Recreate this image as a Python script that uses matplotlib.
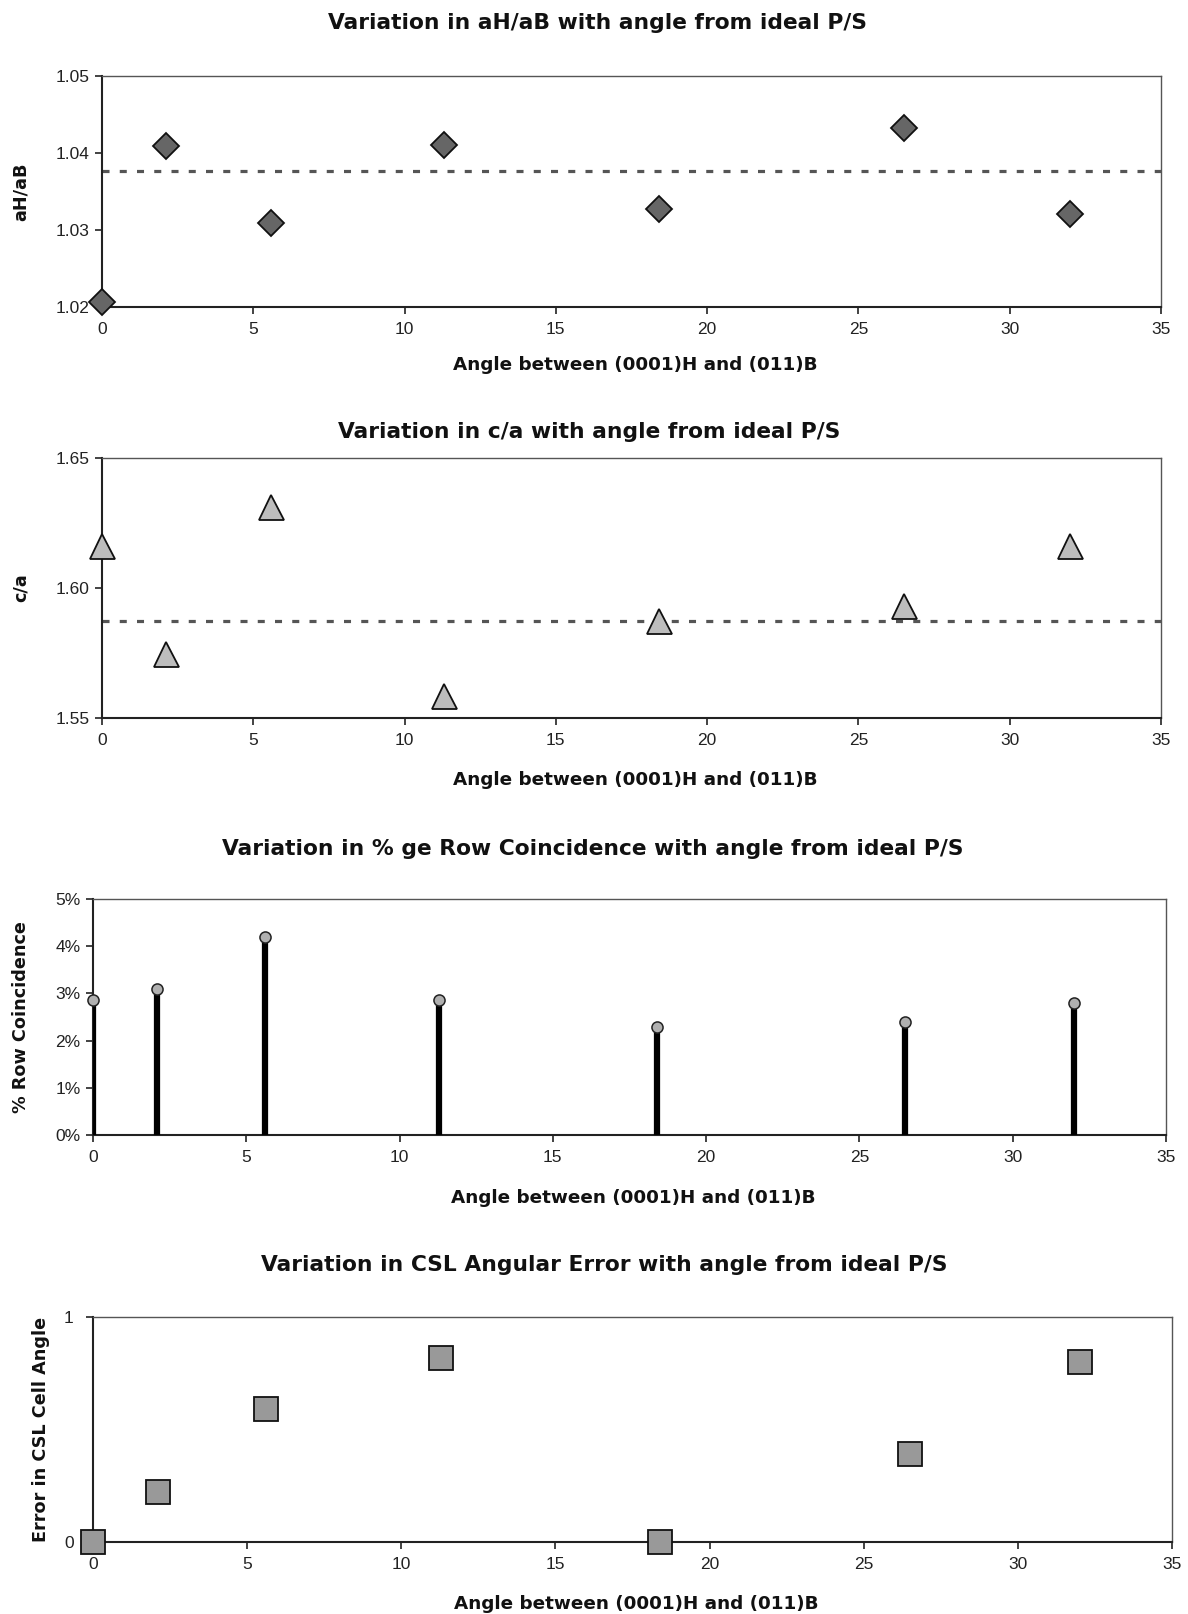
import matplotlib
matplotlib.use("Agg")
import matplotlib.pyplot as plt
from matplotlib.ticker import FixedLocator, FuncFormatter

plt.rcParams['font.family'] = ['Liberation Sans', 'DejaVu Sans']

# ---- data ----
angles = [0.0, 2.1, 5.6, 11.3, 18.4, 26.5, 32.0]
ah_ab = [1.0207, 1.0409, 1.0309, 1.0410, 1.0327, 1.0432, 1.0321]
ideal_ah_ab = 1.0377
c_over_a = [1.6162, 1.5745, 1.6312, 1.5583, 1.5874, 1.5929, 1.6160]
ideal_c_over_a = 1.5872
row_coincidence = [2.87, 3.10, 4.19, 2.87, 2.28, 2.39, 2.79]  # percent
csl_error = [0.0, 0.222, 0.593, 0.818, 0.0, 0.391, 0.799]

titles = ["Variation in aH/aB with angle from ideal P/S",
          "Variation in c/a with angle from ideal P/S",
          "Variation in % ge Row Coincidence with angle from ideal P/S",
          "Variation in CSL Angular Error with angle from ideal P/S"]
ylabels = ["aH/aB", "c/a", "% Row Coincidence", "Error in CSL Cell Angle"]
xlabel = "Angle between (0001)H and (011)B"
xticks = [0, 5, 10, 15, 20, 25, 30, 35]

W, H = 1188, 1614
fig = plt.figure(figsize=(W / 100, H / 100), dpi=100)

bold_family = ['DejaVu Sans']

# axes boxes in pixel coords: left, right, top, bottom
boxes = [(102, 1161, 76, 307),
         (102, 1161, 458, 718),
         (93, 1166, 899, 1135),
         (93, 1172, 1317, 1542)]
title_pos = [(597, 23), (589, 432), (593, 849), (604, 1265)]
ylabel_x = [21, 21, 21, 41]
xlabel_y = [365, 780, 1198, 1604]
ytick_pad = [4, 4, 4, 9]


def make_axes(i):
    l, r, t, b = boxes[i]
    ax = fig.add_axes([l / W, 1 - b / H, (r - l) / W, (b - t) / H])
    ax.set_xlim(0, 35)
    ax.xaxis.set_major_locator(FixedLocator(xticks))
    ax.tick_params(axis='both', direction='out', length=5, width=1.2,
                   labelsize=12.5, colors='#222222', labelcolor='#222222')
    ax.tick_params(axis='x', pad=6)
    ax.tick_params(axis='y', pad=ytick_pad[i])
    for s in ['left', 'bottom']:
        ax.spines[s].set_linewidth(1.5)
        ax.spines[s].set_color('#222222')
    for s in ['top', 'right']:
        ax.spines[s].set_linewidth(1.0)
        ax.spines[s].set_color('#555555')
    fig.text(title_pos[i][0] / W, 1 - title_pos[i][1] / H, titles[i],
             ha='center', va='center', fontsize=15.7, fontweight='bold',
             family=bold_family, color='#111111')
    fig.text(ylabel_x[i] / W, 1 - ((t + b) / 2) / H, ylabels[i],
             ha='center', va='center', rotation=90, fontsize=12.7,
             fontweight='bold', family=bold_family, color='#111111')
    fig.text(((l + r) / 2 + 4) / W, 1 - xlabel_y[i] / H, xlabel,
             ha='center', va='center', fontsize=13.2, fontweight='bold',
             family=bold_family, color='#111111')
    return ax


dash = (0, (2.2, 3.2))

# Panel 1
ax1 = make_axes(0)
ax1.set_ylim(1.02, 1.05)
ax1.yaxis.set_major_locator(FixedLocator([1.02, 1.03, 1.04, 1.05]))
ax1.yaxis.set_major_formatter(FuncFormatter(lambda v, p: f"{v:.2f}"))
ax1.axhline(ideal_ah_ab, color='#555555', lw=2.3, linestyle=dash)
ax1.plot(angles, ah_ab, linestyle='none', marker='D', markersize=13,
         markerfacecolor='#666666', markeredgecolor='#111111',
         markeredgewidth=1.3, clip_on=False, zorder=5)

# Panel 2
ax2 = make_axes(1)
ax2.set_ylim(1.55, 1.65)
ax2.yaxis.set_major_locator(FixedLocator([1.55, 1.60, 1.65]))
ax2.yaxis.set_major_formatter(FuncFormatter(lambda v, p: f"{v:.2f}"))
ax2.axhline(ideal_c_over_a, color='#555555', lw=2.3, linestyle=dash)
ax2.plot(angles, c_over_a, linestyle='none', marker='^', markersize=18,
         markerfacecolor='#bdbdbd', markeredgecolor='#111111',
         markeredgewidth=1.3, clip_on=False, zorder=5)

# Panel 3
ax3 = make_axes(2)
ax3.set_ylim(0, 5)
ax3.yaxis.set_major_locator(FixedLocator([0, 1, 2, 3, 4, 5]))
ax3.yaxis.set_major_formatter(FuncFormatter(lambda v, p: f"{v:.0f}%"))
ax3.vlines(angles, 0, row_coincidence, color='#000000', lw=4.5, zorder=3)
ax3.plot(angles, row_coincidence, linestyle='none', marker='o', markersize=8,
         markerfacecolor='#b0b0b0', markeredgecolor='#222222',
         markeredgewidth=1.1, clip_on=False, zorder=5)

# Panel 4
ax4 = make_axes(3)
ax4.set_ylim(0, 1)
ax4.yaxis.set_major_locator(FixedLocator([0, 1]))
ax4.yaxis.set_major_formatter(FuncFormatter(lambda v, p: f"{v:.0f}"))
ax4.plot(angles, csl_error, linestyle='none', marker='s', markersize=17,
         markerfacecolor='#999999', markeredgecolor='#111111',
         markeredgewidth=1.3, clip_on=False, zorder=5)

fig.savefig("out.png", dpi=100, facecolor='white')
